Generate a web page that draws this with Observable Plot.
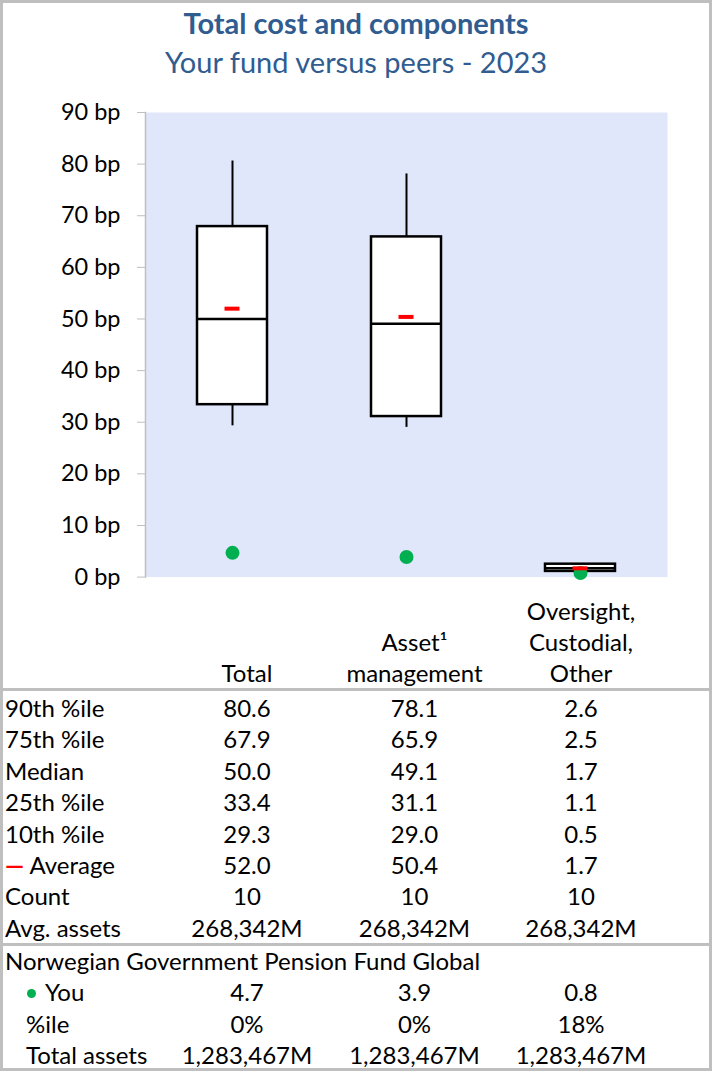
<!DOCTYPE html>
<html><head><meta charset="utf-8">
<script src="https://cdn.jsdelivr.net/npm/d3@7"></script>
<script src="https://cdn.jsdelivr.net/npm/@observablehq/plot@0.6"></script>
<style>
body{margin:0;background:#fff;font-family:Lato,sans-serif;}
#wrap{position:relative;width:712px;height:1071px;overflow:hidden;background:#fff;}
.bar{position:absolute;background:#BFBFBF;}
.t{position:absolute;white-space:nowrap;font-size:24px;color:#000;line-height:1;}
.c{transform:translate(-50%,-50%);}
.l{transform:translate(0,-50%);}
#chart{position:absolute;left:0;top:90px;}
</style></head><body><div id="wrap"><div id="chart"></div></div>
<script>
// ---- data ----
const categories = ["Total", "Asset¹ management", "Oversight, Custodial, Other"];
const headerLines = [["Total"], ["Asset¹", "management"], ["Oversight,", "Custodial,", "Other"]];
const p90 = [80.6, 78.1, 2.6];
const p75 = [67.9, 65.9, 2.5];
const median = [50.0, 49.1, 1.7];
const p25 = [33.4, 31.1, 1.1];
const p10 = [29.3, 29.0, 0.5];
const average = [52.0, 50.4, 1.7];
const count = [10, 10, 10];
const avgAssets = ["268,342M", "268,342M", "268,342M"];
const you = [4.7, 3.9, 0.8];
const youPctile = ["0%", "0%", "18%"];
const totalAssets = ["1,283,467M", "1,283,467M", "1,283,467M"];
const yTicks = [0, 10, 20, 30, 40, 50, 60, 70, 80, 90];
const fundName = "Norwegian Government Pension Fund Global";
const title = "Total cost and components";
const subtitle = "Your fund versus peers - 2023";

const rows = categories.map((c, i) => ({cat: c, p10: p10[i], p25: p25[i], median: median[i], p75: p75[i], p90: p90[i], avg: average[i], you: you[i]}));

// ---- chart ----
const chart = Plot.plot({
  width: 712, height: 510,
  marginTop: 22, marginBottom: 23.4, marginLeft: 145, marginRight: 45,
  style: {fontFamily: "Lato, sans-serif", fontSize: "23.5px", color: "#000", background: "transparent", overflow: "visible"},
  x: {domain: categories, paddingInner: 0.6, paddingOuter: 0.3, axis: null},
  y: {domain: [0, 90], axis: null},
  marks: [
    Plot.frame({fill: "#E1E7FA", stroke: null}),
    Plot.frame({anchor: "left", stroke: "#BFBFBF", strokeWidth: 1.5}),
    Plot.axisY(yTicks, {tickSize: 8, tickPadding: 17, stroke: "#BFBFBF", fill: "#000", tickFormat: d => d + " bp", fontSize: 23.5}),
    Plot.ruleX(rows, {x: "cat", y1: "p10", y2: "p25", stroke: "#000", strokeWidth: 2}),
    Plot.ruleX(rows, {x: "cat", y1: "p75", y2: "p90", stroke: "#000", strokeWidth: 2}),
    Plot.barY(rows, {x: "cat", y1: "p25", y2: "p75", fill: "#fff", stroke: "#000", strokeWidth: 2.5}),
    Plot.tickY(rows, {x: "cat", y: "median", stroke: "#000", strokeWidth: 2.5}),
    Plot.dot(rows, {x: "cat", y: "you", r: 7, fill: "#00B050", stroke: null}),
    Plot.tickY(rows, {x: "cat", y: "avg", stroke: "#FF0000", strokeWidth: 4, insetLeft: 27.5, insetRight: 27.5})
  ]
});
document.getElementById("chart").appendChild(chart);

// ---- text & table ----
const wrap = document.getElementById("wrap");
function txt(s, x, y, cls, extra) {
  const d = document.createElement("div");
  d.className = "t " + cls;
  d.style.left = x + "px"; d.style.top = y + "px";
  if (extra) Object.assign(d.style, extra);
  if (s instanceof Node) d.appendChild(s); else d.textContent = s;
  wrap.appendChild(d);
  return d;
}
function bar(x, y, w, h) {
  const d = document.createElement("div");
  d.className = "bar";
  Object.assign(d.style, {left: x + "px", top: y + "px", width: w + "px", height: h + "px"});
  wrap.appendChild(d);
}
// frame
bar(0, 0, 712, 3); bar(0, 1068, 712, 3); bar(0, 0, 3, 1071); bar(709, 0, 3, 1071);
bar(0, 688, 712, 3); bar(0, 943, 712, 3);

txt(title, 356, 22, "c", {fontSize: "29px", fontWeight: "700", color: "#305C90"});
txt(subtitle, 356, 61, "c", {fontSize: "29px", color: "#305C90"});

const colX = [247, 414.5, 581];
// header
headerLines.forEach((lines, i) => {
  const n = lines.length;
  lines.forEach((s, j) => txt(s, colX[i], 673 - (n - 1 - j) * 31, "c"));
});

const step = 31.4;
const statRows = [
  ["90th %ile", p90.map(v => v.toFixed(1))],
  ["75th %ile", p75.map(v => v.toFixed(1))],
  ["Median", median.map(v => v.toFixed(1))],
  ["25th %ile", p25.map(v => v.toFixed(1))],
  ["10th %ile", p10.map(v => v.toFixed(1))],
  ["Average", average.map(v => v.toFixed(1))],
  ["Count", count.map(String)],
  ["Avg. assets", avgAssets]
];
statRows.forEach(([label, vals], r) => {
  const y = 708 + r * step;
  if (label === "Average") {
    const f = document.createElement("span");
    const dash = document.createElement("span");
    dash.textContent = "—"; dash.style.color = "#FF0000"; dash.style.fontWeight = "700";
    f.appendChild(dash); f.appendChild(document.createTextNode(" Average"));
    txt(f, 5, y, "l");
  } else txt(label, 5, y, "l");
  vals.forEach((v, i) => txt(v, colX[i], y, "c"));
});

txt(fundName, 5, 961, "l");
const youRows = [
  ["You", you.map(v => v.toFixed(1))],
  ["%ile", youPctile],
  ["Total assets", totalAssets]
];
youRows.forEach(([label, vals], r) => {
  const y = 961 + (r + 1) * step;
  if (label === "You") {
    const f = document.createElement("span");
    const dot = document.createElement("span");
    Object.assign(dot.style, {display: "inline-block", width: "9px", height: "9px", borderRadius: "50%", background: "#00B050", marginRight: "9px", verticalAlign: "middle", position: "relative", top: "-2px"});
    f.appendChild(dot); f.appendChild(document.createTextNode("You"));
    txt(f, 27, y, "l");
  } else txt(label, 26, y, "l");
  vals.forEach((v, i) => txt(v, colX[i], y, "c"));
});
</script></body></html>
